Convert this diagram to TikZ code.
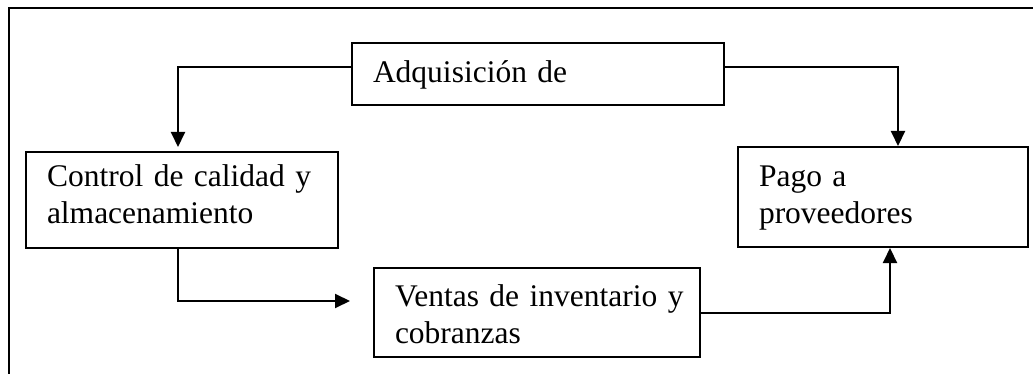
\documentclass[tikz,border=0pt]{standalone}
\usepackage{fontspec}
\setmainfont{Liberation Serif}
\usetikzlibrary{arrows.meta}

\tikzset{
  box/.style={draw, line width=2pt, anchor=north west, inner xsep=21pt, inner ysep=0pt,
    align=left, font=\fontsize{31.5}{37}\selectfont},
  flow/.style={line width=2pt, -{Triangle[length=15pt,width=14pt]}}
}

\begin{document}
\begin{tikzpicture}[x=1pt, y=-1pt]
\useasboundingbox (0,0) rectangle (1033,374);
\clip (0,0) rectangle (1033,374);
% marco exterior (recortado a la derecha y abajo)
\draw[line width=2pt] (9,8) rectangle (1060,400);

\node[box, text width=330pt, text height=40pt, text depth=22pt] (adq) at (351,42) {Adquisición de};
\node[box, text width=270pt, text height=34pt, text depth=62pt] (ctl) at (25,151) {\mbox{Control de calidad y}\\almacenamiento};
\node[box, text width=248pt, text height=39pt, text depth=61pt] (pago) at (737,146) {Pago a\\proveedores};
\node[box, text width=284pt, text height=38pt, text depth=51pt] (ven) at (373,267) {\mbox{Ventas de inventario y}\\cobranzas};

\draw[flow] ([yshift=7pt]adq.west) -| ([xshift=-4pt,yshift=4pt]ctl.north);
\draw[flow] ([yshift=7pt]adq.east) -| ([xshift=15pt]pago.north);
\draw[flow] ([xshift=-4pt]ctl.south) |- ([xshift=-23pt,yshift=11.5pt]ven.west);
\draw[flow] (ven.east) -| ([xshift=7pt]pago.south);
\end{tikzpicture}
\end{document}
